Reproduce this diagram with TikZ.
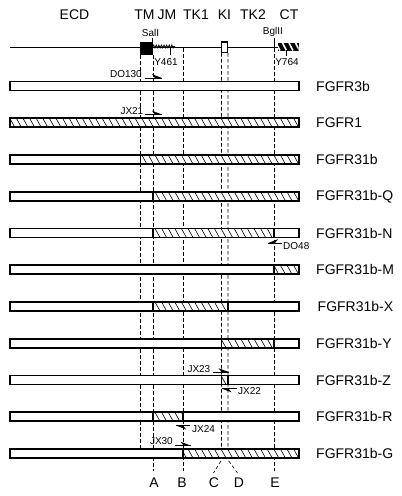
\documentclass[tikz,border=0pt]{standalone}
\usepackage{fontspec}
\setmainfont{Liberation Sans}
\usetikzlibrary{decorations.pathmorphing}
\tikzset{
  barline/.style={line width=1.6pt},
  hatchline/.style={line width=0.6pt},
  guide/.style={line width=0.6pt, dash pattern=on 3.5pt off 2.5pt},
  biglab/.style={inner sep=0pt, font=\fontsize{14}{16}\selectfont},
  smalllab/.style={inner sep=0pt, font=\fontsize{10}{12}\selectfont},
  primer/.style={line width=0.8pt},
}
\newcommand{\hatchseg}[3]{%
  \begin{scope}
    \clip (#1,#3-4.5) rectangle (#2,#3+4.5);
    \foreach \h in {-10,-3.4,...,305}{\draw[hatchline] (\h,#3-4.5) -- ++(5,9);}
  \end{scope}
  \draw[barline] (#1,#3-4.5) rectangle (#2,#3+4.5);}
\newcommand{\wholebar}[1]{\draw[barline, fill=white] (10,#1-4.5) rectangle (299,#1+4.5);}
\newcommand{\fwdprimer}[3]{% x1 x2 y
  \draw[primer] (#1,#3) -- (#2,#3);
  \fill (#2,#3) -- (#2-10,#3-3.8) -- (#2-7,#3) -- cycle;}
\newcommand{\revprimer}[4]{% x1 x2 y side(+1 below,-1 above)
  \draw[primer] (#1,#3) -- (#2,#3);
  \fill (#1,#3) -- (#1+10,#3+#4*3.8) -- (#1+7,#3) -- cycle;}
\begin{document}
\begin{tikzpicture}[x=1pt,y=-1pt]
\useasboundingbox (0,0) rectangle (402,496);
% domain labels
\node[biglab] (ecd) at (74.5,15) {ECD};
\node[biglab] (tm) at (144.5,15) {TM};
\node[biglab] (jm) at (167,15) {JM};
\node[biglab] (tk1) at (196,15) {TK1};
\node[biglab] (ki) at (224.5,15) {KI};
\node[biglab] (tk2) at (253,15) {TK2};
\node[biglab] (ct) at (289,15) {CT};
% guide lines
\draw[guide] (140.5,55) -- (140.5,449);
\draw[guide] (153,55) -- (153,471);
\draw[guide] (183,48) -- (183,471);
\draw[guide] (221.5,53) -- (221.5,460) -- (213.5,473);
\draw[guide] (228,53) -- (228,460) -- (237.5,473);
\draw[guide] (274,48) -- (274,471);
% domain map
\draw[line width=1.5pt] (10,47.5) -- (278,47.5);
\draw[line width=0.8pt, decorate, decoration={zigzag, amplitude=1.4pt, segment length=2.6pt}] (153,46.5) -- (175,46.5);
\fill (139.5,42) rectangle (152.5,55);
\draw[line width=1.2pt, fill=white] (221.5,42) rectangle (227.5,52.5);
\fill (278,43) rectangle (298.5,50.5);
\begin{scope}
  \clip (278,43) rectangle (298.5,50.5);
  \foreach \h in {276,282.5,...,300}{\draw[white, line width=1.6pt] (\h,43) -- ++(4,7.5);}
\end{scope}
\draw[line width=0.7pt] (152.5,37.5) -- (152.5,43);
\draw[line width=0.7pt] (170.7,47) -- (170.7,54.5);
\draw[line width=0.7pt] (274,37.5) -- (274,47.5);
\draw[line width=0.7pt] (286.5,50) -- (286.5,55.5);
\node[smalllab] (sal) at (150.5,32.5) {SalI};
\node[smalllab] (bgl) at (273,32) {BglII};
\node[smalllab] (y461) at (166,62) {Y461};
\node[smalllab] (y764) at (287,62) {Y764};
% bars
\wholebar{86}
\node[biglab, anchor=west] (l1) at (316,86) {FGFR3b};
\wholebar{122.75}
\hatchseg{10}{299}{122.75}
\node[biglab, anchor=west] (l2) at (316,122.75) {FGFR1};
\wholebar{159.5}
\hatchseg{140.5}{299}{159.5}
\node[biglab, anchor=west] (l3) at (316,159.5) {FGFR31b};
\wholebar{196.25}
\hatchseg{153}{299}{196.25}
\node[biglab, anchor=west] (l4) at (316,196.25) {FGFR31b-Q};
\wholebar{233}
\hatchseg{153}{274}{233}
\node[biglab, anchor=west] (l5) at (316,233) {FGFR31b-N};
\wholebar{269.75}
\hatchseg{274}{299}{269.75}
\node[biglab, anchor=west] (l6) at (316,269.75) {FGFR31b-M};
\wholebar{306.5}
\hatchseg{153}{228}{306.5}
\node[biglab, anchor=west] (l7) at (317.5,306.5) {FGFR31b-X};
\wholebar{343.25}
\hatchseg{221.5}{274}{343.25}
\node[biglab, anchor=west] (l8) at (316,343.25) {FGFR31b-Y};
\wholebar{380}
\hatchseg{221.5}{228}{380}
\node[biglab, anchor=west] (l9) at (316,380) {FGFR31b-Z};
\wholebar{416.75}
\hatchseg{153}{183}{416.75}
\node[biglab, anchor=west] (l10) at (316,416.75) {FGFR31b-R};
\wholebar{453.5}
\hatchseg{183}{299}{453.5}
\node[biglab, anchor=west] (l11) at (316,453.5) {FGFR31b-G};
% primers
\fwdprimer{145}{162}{78}
\node[smalllab, anchor=east] (do130) at (142,74) {DO130};
\fwdprimer{145}{162}{114.5}
\node[smalllab, anchor=east] (jx21) at (143.5,111) {JX21};
\revprimer{268}{282}{243}{-1}
\node[smalllab, anchor=west] (do48) at (283,246) {DO48};
\fwdprimer{212.5}{228.5}{372}
\node[smalllab, anchor=east] (jx23) at (210.5,369) {JX23};
\revprimer{221.5}{236.5}{388.5}{1}
\node[smalllab, anchor=west] (jx22) at (238,391.5) {JX22};
\revprimer{176}{190}{425.5}{1}
\node[smalllab, anchor=west] (jx24) at (192,429) {JX24};
\fwdprimer{175}{190.5}{445.5}
\node[smalllab, anchor=east] (jx30) at (173,441.5) {JX30};
% junction letters
\node[biglab] (A) at (154,483) {A};
\node[biglab] (B) at (182,483) {B};
\node[biglab] (C) at (214,483) {C};
\node[biglab] (D) at (239,483) {D};
\node[biglab] (E) at (275,483) {E};
\end{tikzpicture}
\end{document}
